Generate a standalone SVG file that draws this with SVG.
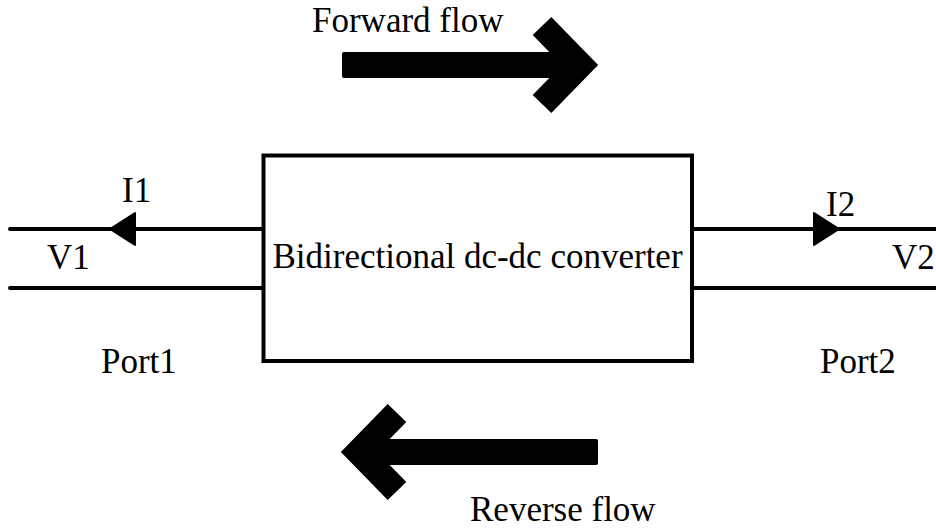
<svg xmlns="http://www.w3.org/2000/svg" width="936" height="529" viewBox="0 0 936 529">
<style>
text{font-family:"Liberation Serif","Times New Roman",serif;font-size:35px;fill:#000}
.w{stroke:#000;stroke-width:4;fill:none;stroke-linecap:round}
.big{stroke:#000;stroke-width:26;fill:none;stroke-linejoin:miter;stroke-linecap:butt}
</style>
<rect width="936" height="529" fill="#fff"/>
<g id="converter">
<rect x="263.5" y="155.5" width="428.5" height="205.5" fill="#fff" stroke="#000" stroke-width="4"/>
<text x="477.5" y="268" text-anchor="middle">Bidirectional dc-dc converter</text>
</g>
<g id="port1">
<text x="101" y="373">Port1</text>
<text x="47" y="269">V1</text>
<text x="122" y="202">I1</text>
</g>
<g id="port2">
<text x="820" y="373">Port2</text>
<text x="892" y="269">V2</text>
<text x="826" y="216">I2</text>
</g>
<g id="connectors">
<line class="w" x1="10" y1="229" x2="263" y2="229"/>
<line class="w" x1="10" y1="288" x2="263" y2="288"/>
<line class="w" x1="692" y1="229" x2="936" y2="229"/>
<line class="w" x1="692" y1="288" x2="936" y2="288"/>
<polygon points="110,229 135,213 135,245" fill="#000" stroke="#000" stroke-width="2" stroke-linejoin="round"/>
<polygon points="839,229 814,213 814,245" fill="#000" stroke="#000" stroke-width="2" stroke-linejoin="round"/>
</g>
<g id="forward">
<text x="312" y="32">Forward flow</text>
<rect x="342" y="52" width="232" height="26" rx="2" fill="#000"/>
<polyline class="big" points="542,26 580,65 542,104"/>
</g>
<g id="reverse">
<text x="470" y="521">Reverse flow</text>
<rect x="372" y="439" width="226" height="26" rx="2" fill="#000"/>
<polyline class="big" points="397,413 359,452 397,491"/>
</g>
</svg>
